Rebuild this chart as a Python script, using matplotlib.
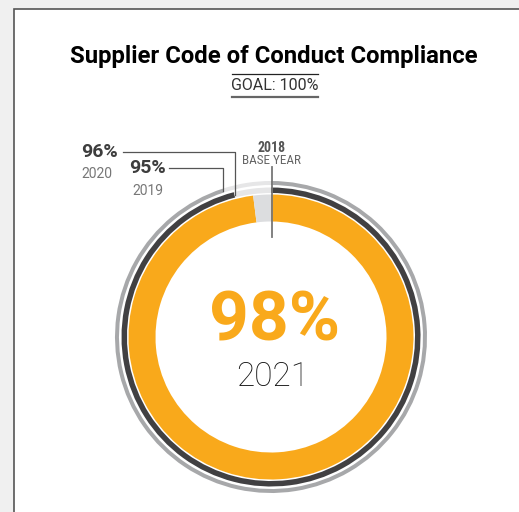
import numpy as np
import matplotlib.pyplot as plt
from matplotlib.patches import Rectangle

# compliance per year (percent)
years = ["2019", "2020", "2021"]
values = [95, 96, 98]
goal = 100
ringColors = ["#a7a8aa", "#414042", "#f9a91b"]
restColors = ["#e6e6e7", "#e6e6e7", "#dcdddf"]

W, H = 519, 512
fig = plt.figure(figsize=(W / 100, H / 100), dpi=100)
fig.patch.set_facecolor("#f0f0f0")
ax = fig.add_axes([0, 0, 1, 1])

# white panel with dark border (runs off right and bottom)
ax.add_patch(Rectangle((13.5, -10), W, H - 8.5 + 10, facecolor="white",
                       edgecolor="#555555", linewidth=1.2, zorder=0))

cx, cy = 271, H - 337
radii = [156, 149.5, 142.5]
widths = [4, 5.5, 27]

for v, r, w, c, rc in zip(values, radii, widths, ringColors, restColors):
    ax.pie([v, goal - v], colors=[c, rc], radius=r, center=(cx, cy),
           startangle=90, counterclock=False, frame=True,
           wedgeprops=dict(width=w, linewidth=0))

ax.set_xlim(0, W)
ax.set_ylim(0, H)
ax.set_aspect("auto")
ax.axis("off")

font = "Roboto"
cond = ["Roboto Condensed", "Liberation Sans Narrow", "Roboto"]

# title
ax.text(274, H - 56, "Supplier Code of Conduct Compliance", ha="center", va="center",
        fontsize=17.2, fontweight="bold", family=font, color="black")
ax.text(275, H - 86, "GOAL: %d%%" % goal, ha="center", va="center",
        fontsize=11.5, family=font, color="#333333")
ax.plot([232, 318], [H - 74, H - 74], color="#222222", linewidth=0.9)
ax.plot([232, 318], [H - 97, H - 97], color="#666666", linewidth=1.6)

# centre
ax.text(275, H - 322, "%d%%" % values[2], ha="center", va="center",
        fontsize=50, fontweight="bold", family=font, color=ringColors[2])
ax.text(273, H - 377, years[2], ha="center", va="center",
        fontsize=24, fontweight="light", family=font, color="#111111")

# base year marker
ax.plot([cx + 1, cx + 1], [H - 167, H - 237], color="#777777", linewidth=1.3)
ax.text(272, H - 148, "2018", ha="center", va="center", fontsize=10,
        fontweight="bold", family=cond, color="#555555")
ax.text(272, H - 160, "BASE YEAR", ha="center", va="center", fontsize=9.5,
        family=cond, color="#666666")

# leader lines to ring ends
def ringEnd(v, r):
    a = 2 * np.pi * (1 - v / goal)
    return cx - r * np.sin(a), cy + r * np.cos(a)

ex, ey = ringEnd(values[1], radii[1] - widths[1] / 2)
ax.plot([123, ex, ex], [H - 152, H - 152, ey], color="#555555", linewidth=0.9)
ex, ey = ringEnd(values[0], radii[0] - widths[0] / 2)
ax.plot([169, ex, ex], [H - 168, H - 168, ey], color="#555555", linewidth=0.9)

ax.text(99, H - 152, "%d%%" % values[1], ha="center", va="center",
        fontsize=14, fontweight="bold", family=font, color="#3d3d3d")
ax.text(97, H - 174, years[1], ha="center", va="center",
        fontsize=10, family=font, color="#777777")
ax.text(148, H - 168, "%d%%" % values[0], ha="center", va="center",
        fontsize=14, fontweight="bold", family=font, color="#3d3d3d")
ax.text(148, H - 191, years[0], ha="center", va="center",
        fontsize=10, family=font, color="#777777")

plt.savefig("out.png", dpi=100, facecolor=fig.get_facecolor())
